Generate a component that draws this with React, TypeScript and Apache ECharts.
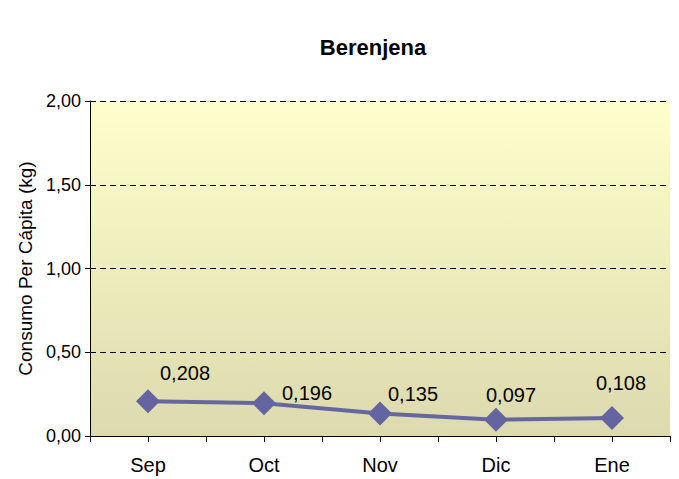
import React, { useEffect, useRef } from "react";
import * as echarts from "echarts";

const categories = ["Sep", "Oct", "Nov", "Dic", "Ene"];
const values = [0.208, 0.196, 0.135, 0.097, 0.108];
const labelOffsets: [number, number][] = [
  [37, -28],
  [43, -10],
  [33, -19],
  [15, -25],
  [9, -35],
];
const yTicks = [0, 0.5, 1, 1.5, 2];

export default function App() {
  const ref = useRef<HTMLDivElement>(null);
  useEffect(() => {
    if (!ref.current) return;
    const chart = echarts.init(ref.current, null, { renderer: "svg" });
    const font = "Arial, 'Liberation Sans', sans-serif";
    chart.setOption({
      animation: false,
      backgroundColor: "#ffffff",
      title: {
        text: "Berenjena",
        left: 368,
        top: 31,
        textAlign: "center",
        textStyle: { fontFamily: font, fontSize: 22, fontWeight: "bold", color: "#000" },
      },
      grid: {
        left: 90,
        right: 9,
        top: 101,
        bottom: 43,
        show: true,
        borderWidth: 0,
        backgroundColor: new echarts.graphic.LinearGradient(0, 0, 0, 1, [
          { offset: 0, color: "#FFFFCC" },
          { offset: 1, color: "#DCDAAE" },
        ]),
      },
      xAxis: [
        {
          type: "category",
          data: categories,
          boundaryGap: true,
          axisLine: { lineStyle: { color: "#000", width: 1 } },
          axisTick: { show: true, alignWithLabel: false, length: 6, lineStyle: { color: "#000" } },
          axisLabel: { fontFamily: font, fontSize: 20, color: "#000", margin: 19 },
        },
        {
          type: "category",
          data: categories,
          position: "bottom",
          boundaryGap: true,
          axisLine: { show: false },
          axisTick: { show: true, alignWithLabel: true, length: 6, lineStyle: { color: "#000" } },
          axisLabel: { show: false },
        },
      ],
      yAxis: {
        type: "value",
        min: 0,
        max: 2,
        interval: 0.5,
        name: "Consumo Per Cápita (kg)",
        nameLocation: "middle",
        nameGap: 52,
        nameTextStyle: { fontFamily: font, fontSize: 19, color: "#000" },
        axisLine: { show: true, lineStyle: { color: "#000" } },
        axisTick: { show: true, length: 5, lineStyle: { color: "#000" } },
        axisLabel: {
          fontFamily: font,
          fontSize: 18,
          color: "#000",
          margin: 9,
          formatter: (v: number) => (yTicks.includes(v) ? v.toFixed(2).replace(".", ",") : ""),
        },
        splitLine: { show: true, lineStyle: { color: "#000", type: [6, 4], width: 1 } },
      },
      series: [
        {
          type: "line",
          data: values.map((v, i) => ({
            value: v,
            label: { offset: labelOffsets[i] },
          })),
          symbol: "diamond",
          symbolSize: 24,
          lineStyle: { color: "#6666A0", width: 4 },
          itemStyle: { color: "#6464A0" },
          label: {
            show: true,
            position: "inside",
            fontFamily: font,
            fontSize: 20,
            color: "#000",
            formatter: (p: any) => p.value.toFixed(3).replace(".", ","),
          },
        },
      ],
    });
    return () => chart.dispose();
  }, []);
  return <div ref={ref} style={{ width: 679, height: 479, position: "absolute", left: 0, top: 0 }} />;
}
